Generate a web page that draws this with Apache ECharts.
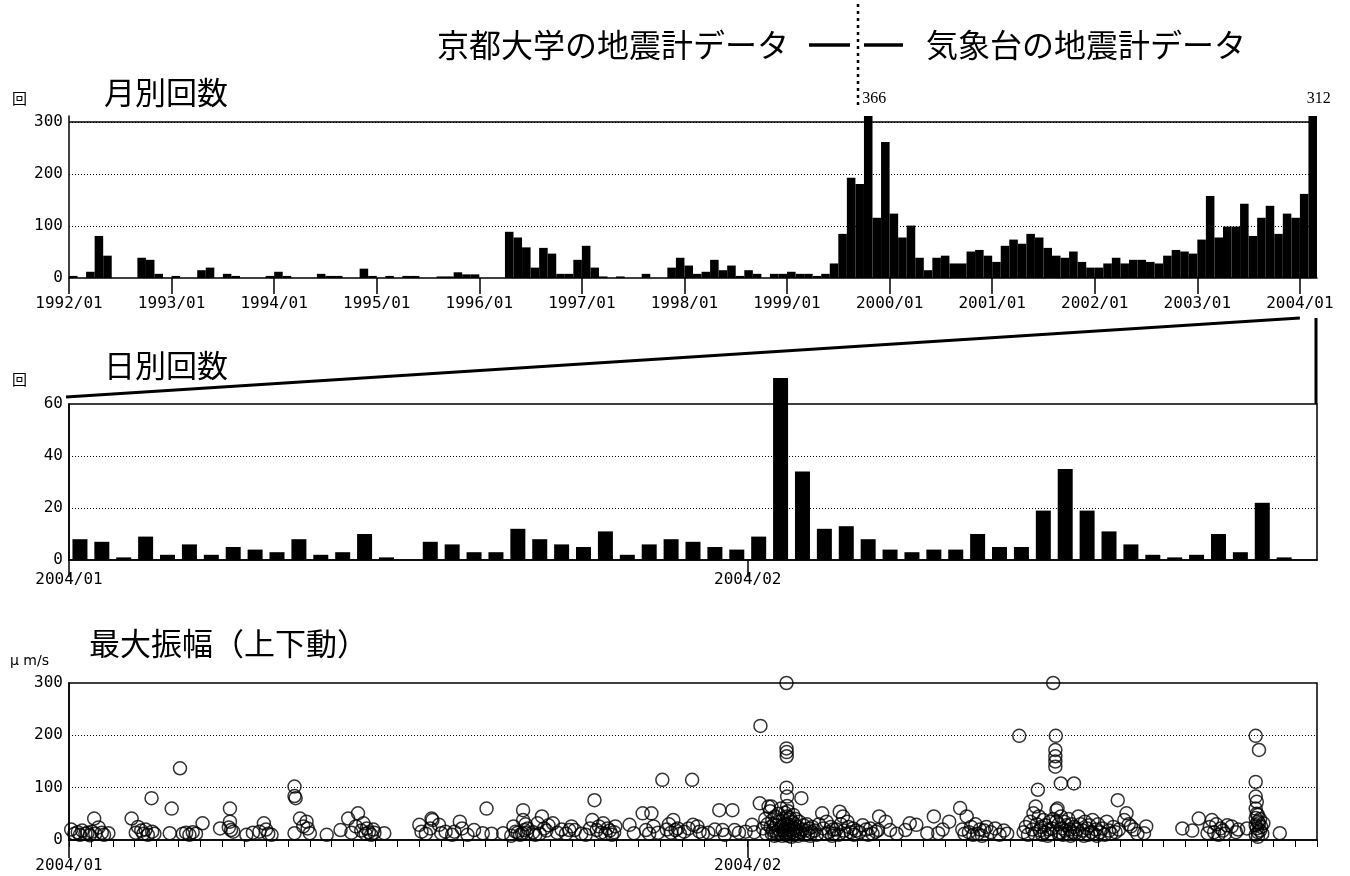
<!DOCTYPE html>
<html>
<head>
<meta charset="utf-8">
<script src="https://cdn.jsdelivr.net/npm/echarts@6.0.0/dist/echarts.min.js"></script>
<style>
html, body { margin: 0; background: #fff; }
#main { width: 1350px; height: 876px; }
</style>
</head>
<body>
<div id="main"></div>
<script>
// 月別回数 1992/01 - 2004/02
const monthlyCounts = [
	4, 0, 12, 81, 43, 0, 0, 0, 39, 35, 8, 0,
	4, 0, 0, 15, 20, 0, 8, 4, 0, 0, 0, 4,
	12, 4, 0, 0, 0, 8, 4, 4, 0, 0, 18, 4,
	0, 4, 0, 4, 4, 0, 0, 3, 3, 11, 7, 7,
	0, 0, 0, 89, 78, 59, 20, 58, 47, 8, 8, 35,
	62, 20, 3, 0, 3, 0, 0, 8, 0, 0, 20, 39,
	24, 8, 12, 35, 15, 24, 4, 15, 8, 0, 8, 8,
	12, 8, 8, 4, 8, 28, 85, 193, 181, 366, 116, 262,
	124, 78, 101, 39, 15, 39, 43, 28, 28, 51, 54, 43,
	31, 62, 74, 66, 85, 78, 58, 43, 39, 51, 31, 20,
	20, 28, 39, 28, 35, 35, 31, 28, 43, 54, 51, 47,
	74, 158, 78, 99, 99, 143, 81, 116, 139, 85, 124, 116,
	162, 312
];
const yearTickLabels = ['1992/01', '1993/01', '1994/01', '1995/01', '1996/01', '1997/01', '1998/01',
	'1999/01', '2000/01', '2001/01', '2002/01', '2003/01', '2004/01'];

// 日別回数 2004/01/01 - 2004/02/26
const dailyCounts = [
	8, 7, 1, 9, 2, 6, 2, 5, 4, 3, 8, 2, 3, 10, 1, 0, 7, 6, 3, 3, 12, 8, 6, 5, 11, 2, 6, 8, 7, 5, 4,
	9, 70, 34, 12, 13, 8, 4, 3, 4, 4, 10, 5, 5, 19, 35, 19, 11, 6, 2, 1, 2, 10, 3, 22, 1, 0
];
const dayTickLabels = ['2004/01', '2004/02'];
const dayTickDays = [0, 31];

// 最大振幅（上下動）: [2004/01/01からの日数, μm/s]
const ampPoints = [
	[0.1, 20], [0.25, 12], [0.4, 15], [0.5, 10], [0.6, 18], [0.75, 12], [0.85, 14], [0.95, 9],
	[1.05, 16], [1.15, 41], [1.2, 12], [1.35, 24], [1.5, 14], [1.6, 10], [1.8, 13],
	[2.86, 41],
	[3.05, 14], [3.15, 25], [3.3, 18], [3.4, 12], [3.5, 20], [3.6, 10], [3.77, 80], [3.8, 16], [3.9, 12],
	[4.6, 13], [4.69, 60],
	[5.07, 137], [5.2, 12], [5.35, 14], [5.5, 10], [5.65, 15], [5.8, 12],
	[6.1, 32], [6.9, 22],
	[7.3, 24], [7.35, 60], [7.35, 35], [7.4, 19], [7.5, 16],
	[8.1, 10], [8.4, 14], [8.7, 16], [8.9, 32],
	[9.0, 20], [9.1, 12], [9.25, 10],
	[10.3, 102], [10.3, 84], [10.35, 80], [10.3, 13], [10.55, 41], [10.7, 26], [10.85, 35], [10.9, 22],
	[11.0, 13], [11.77, 10],
	[12.4, 19], [12.75, 41], [12.9, 14],
	[13.1, 26], [13.2, 51], [13.35, 18], [13.45, 32], [13.55, 12], [13.6, 22], [13.7, 15], [13.8, 10], [13.9, 20], [13.95, 14],
	[14.4, 13],
	[16.0, 29], [16.1, 16], [16.3, 12], [16.5, 22], [16.56, 41], [16.6, 38], [16.9, 29],
	[17.0, 13], [17.2, 16], [17.5, 10], [17.6, 16], [17.85, 35], [17.95, 22],
	[18.2, 10], [18.5, 19], [18.9, 13],
	[19.07, 60], [19.3, 12], [19.83, 13],
	[20.2, 8], [20.3, 26], [20.4, 16], [20.5, 14], [20.6, 10], [20.7, 12], [20.74, 57], [20.74, 38], [20.8, 19], [20.85, 30], [20.9, 13], [20.95, 22],
	[21.2, 15], [21.3, 10], [21.4, 32], [21.5, 12], [21.6, 45], [21.7, 22], [21.8, 18], [21.9, 28],
	[22.1, 32], [22.3, 14], [22.5, 20], [22.7, 12], [22.85, 19], [22.95, 26],
	[23.1, 19], [23.4, 12], [23.6, 10], [23.8, 22], [23.9, 38],
	[24.0, 76], [24.1, 19], [24.2, 26], [24.3, 14], [24.4, 32], [24.5, 12], [24.6, 22], [24.7, 18], [24.8, 10], [24.9, 15], [24.95, 26],
	[25.6, 29], [25.8, 13],
	[26.2, 51], [26.35, 19], [26.5, 12], [26.6, 51], [26.7, 26], [26.9, 14],
	[27.1, 115], [27.3, 20], [27.4, 30], [27.5, 14], [27.6, 38], [27.7, 19], [27.8, 22], [27.9, 12],
	[28.1, 16], [28.3, 22], [28.46, 115], [28.5, 29], [28.7, 26], [28.8, 16], [28.95, 12],
	[29.2, 14], [29.5, 20], [29.7, 57], [29.85, 19], [29.95, 10],
	[30.3, 57], [30.4, 19], [30.6, 14], [30.9, 16],
	[31.2, 29], [31.3, 15], [31.55, 70], [31.58, 218], [31.7, 22], [31.8, 40], [31.85, 12], [31.9, 30], [31.95, 64],
	[32.02, 55], [32.05, 25], [32.08, 64], [32.1, 12], [32.12, 38], [32.15, 18], [32.2, 30], [32.22, 8], [32.25, 45], [32.3, 15],
	[32.32, 28], [32.35, 10], [32.4, 50], [32.42, 20], [32.45, 35], [32.5, 12], [32.52, 60], [32.55, 25], [32.58, 8], [32.6, 40],
	[32.62, 18], [32.65, 30], [32.68, 14], [32.7, 52], [32.72, 22], [32.75, 10], [32.77, 300], [32.77, 175], [32.78, 168], [32.78, 160],
	[32.77, 100], [32.8, 83], [32.8, 65], [32.8, 45], [32.82, 30], [32.82, 15], [32.84, 55], [32.85, 20], [32.86, 8], [32.88, 38],
	[32.9, 25], [32.92, 12], [32.94, 42], [32.96, 18], [32.98, 28], [32.99, 6],
	[33.02, 35], [33.05, 15], [33.08, 48], [33.1, 22], [33.12, 10], [33.15, 30], [33.18, 18], [33.2, 40], [33.25, 12], [33.28, 25],
	[33.3, 8], [33.35, 35], [33.4, 15], [33.45, 80], [33.5, 20], [33.55, 28], [33.6, 10], [33.65, 18], [33.7, 30], [33.75, 12],
	[33.8, 22], [33.85, 8], [33.9, 15], [33.95, 25],
	[34.05, 18], [34.15, 10], [34.25, 30], [34.4, 51], [34.45, 22], [34.55, 12], [34.6, 35], [34.7, 15], [34.8, 25], [34.85, 8], [34.9, 20], [34.95, 12],
	[35.05, 20], [35.15, 10], [35.2, 54], [35.25, 30], [35.35, 45], [35.4, 18], [35.5, 12], [35.55, 35], [35.6, 25], [35.7, 15], [35.8, 22], [35.85, 10], [35.95, 18],
	[36.1, 15], [36.25, 28], [36.4, 20], [36.5, 10], [36.6, 22], [36.7, 12], [36.85, 16], [36.95, 19],
	[37.0, 45], [37.3, 35], [37.5, 19], [37.8, 12],
	[38.2, 19], [38.4, 32], [38.7, 29],
	[39.2, 13], [39.5, 45], [39.7, 13], [39.9, 20],
	[40.2, 35], [40.7, 61], [40.8, 20], [40.9, 12],
	[41.0, 45], [41.1, 15], [41.2, 25], [41.3, 10], [41.4, 30], [41.5, 12], [41.6, 20], [41.7, 8], [41.8, 18], [41.9, 25],
	[42.1, 15], [42.3, 22], [42.5, 10], [42.7, 18], [42.85, 12],
	[43.4, 199], [43.6, 15], [43.7, 25], [43.8, 10], [43.9, 35],
	[44.0, 20], [44.05, 51], [44.1, 12], [44.15, 64], [44.2, 30], [44.25, 96], [44.3, 45], [44.35, 18], [44.4, 25], [44.45, 10],
	[44.5, 38], [44.55, 15], [44.6, 28], [44.7, 8], [44.75, 20], [44.8, 35], [44.85, 12], [44.9, 22], [44.95, 40], [44.95, 300],
	[45.07, 199], [45.05, 172], [45.05, 160], [45.05, 150], [45.05, 140], [45.3, 108], [45.9, 108], [45.1, 57], [45.15, 60], [45.2, 30],
	[45.25, 15], [45.3, 45], [45.35, 22], [45.4, 10], [45.45, 35], [45.5, 18], [45.55, 28], [45.6, 12], [45.65, 40], [45.7, 20],
	[45.75, 8], [45.8, 30], [45.85, 15], [45.9, 25], [45.95, 12], [45.1, 35], [45.2, 12],
	[46.05, 20], [46.1, 45], [46.15, 12], [46.2, 30], [46.3, 18], [46.35, 8], [46.4, 35], [46.5, 22], [46.55, 10], [46.6, 28],
	[46.7, 15], [46.75, 38], [46.8, 12], [46.9, 20], [46.95, 8],
	[47.0, 30], [47.1, 15], [47.2, 22], [47.3, 10], [47.4, 35], [47.5, 18], [47.6, 12], [47.7, 25], [47.8, 15], [47.9, 76], [47.95, 20],
	[48.2, 38], [48.3, 51], [48.4, 30], [48.5, 26], [48.65, 20], [48.8, 12],
	[49.1, 13], [49.2, 26],
	[50.85, 22],
	[51.3, 18], [51.6, 41],
	[52.0, 13], [52.1, 25], [52.2, 38], [52.3, 15], [52.4, 30], [52.5, 10], [52.6, 22], [52.7, 18], [52.8, 12], [52.9, 28],
	[53.1, 26], [53.3, 15], [53.4, 20], [53.8, 22],
	[54.2, 199], [54.35, 172], [54.2, 111], [54.2, 83], [54.25, 73], [54.2, 60], [54.25, 50], [54.2, 42], [54.3, 35], [54.2, 28],
	[54.25, 22], [54.3, 15], [54.2, 10], [54.35, 32], [54.3, 6], [54.4, 18], [54.45, 25], [54.5, 12], [54.55, 32], [54.3, 48], [54.4, 40],
	[55.3, 13]
];

// カテゴリ（月・日）
const monthCats = [];
for (let y = 1992; y <= 2004; y++) {
	for (let m = 1; m <= 12; m++) {
		if (monthCats.length < monthlyCounts.length) monthCats.push(y + '/' + String(m).padStart(2, '0'));
	}
}
const dayCats = dailyCounts.map((v, i) => i < 31 ? '2004/01/' + (i + 1) : '2004/02/' + (i - 30));

// レイアウト
const L = 69, W = 1248;
const G1 = { top: 116, height: 162 };
const G2 = { top: 404, height: 156 };
const G3 = { top: 683, height: 157 };
const AX_FONT = '"DejaVu Sans Mono", monospace';
const JP_FONT = '"Noto Sans CJK JP", sans-serif';
const BLACK = '#000';

const yearTickPos = yearTickLabels.map((s, i) => i * 12);
const dotted = { lineStyle: { color: BLACK, type: [1, 2], width: 1 }, showMinLine: false, showMaxLine: false };
const axisText = { color: BLACK, fontFamily: AX_FONT, fontSize: 16 };

const chart = echarts.init(document.getElementById('main'));

// 月と2004/01の境界位置
const monthX = (i) => L + i * W / monthlyCounts.length;
const iJan04 = monthCats.indexOf('2004/01');

const option = {
	animation: false,
	backgroundColor: '#fff',
	grid: [
		{ left: L, width: W, top: G1.top, height: G1.height, outerBoundsMode: 'none' },
		{ left: L, width: W, top: G2.top, height: G2.height, show: true, borderColor: BLACK, borderWidth: 1.5, outerBoundsMode: 'none' },
		{ left: L, width: W, top: G3.top, height: G3.height, show: true, borderColor: BLACK, borderWidth: 1.5, outerBoundsMode: 'none' }
	],
	xAxis: [
		{
			type: 'category', gridIndex: 0, data: monthCats,
			axisLine: { lineStyle: { color: BLACK, width: 1.5 } },
			axisTick: { interval: 0, length: 6, lineStyle: { color: BLACK } },
			axisLabel: { show: false }
		},
		{
			type: 'value', gridIndex: 0, position: 'bottom', min: 0, max: monthlyCounts.length,
			axisLine: { show: false },
			splitLine: { show: false },
			axisTick: { customValues: yearTickPos, length: 16, lineStyle: { color: BLACK, width: 1.5 } },
			axisLabel: Object.assign({
				customValues: yearTickPos, margin: 18,
				formatter: (v) => yearTickLabels[yearTickPos.indexOf(v)] || ''
			}, axisText)
		},
		{
			type: 'category', gridIndex: 1, data: dayCats,
			axisLine: { lineStyle: { color: BLACK, width: 1.5 } },
			axisTick: { interval: 0, length: 7, lineStyle: { color: BLACK } },
			axisLabel: { show: false }
		},
		{
			type: 'value', gridIndex: 1, position: 'bottom', min: 0, max: dailyCounts.length,
			axisLine: { show: false },
			splitLine: { show: false },
			axisTick: { customValues: dayTickDays, length: 17, lineStyle: { color: BLACK, width: 1.5 } },
			axisLabel: Object.assign({
				customValues: dayTickDays, margin: 12,
				formatter: (v) => dayTickLabels[dayTickDays.indexOf(v)] || ''
			}, axisText)
		},
		{
			type: 'value', gridIndex: 2, min: 0, max: dailyCounts.length, interval: 1,
			axisLine: { lineStyle: { color: BLACK, width: 1.5 } },
			axisTick: { length: 7, lineStyle: { color: BLACK } },
			axisLabel: { show: false },
			splitLine: { show: false }
		},
		{
			type: 'value', gridIndex: 2, position: 'bottom', min: 0, max: dailyCounts.length,
			axisLine: { show: false },
			splitLine: { show: false },
			axisTick: { customValues: dayTickDays, length: 18, lineStyle: { color: BLACK, width: 1.5 } },
			axisLabel: Object.assign({
				customValues: dayTickDays, margin: 18,
				formatter: (v) => dayTickLabels[dayTickDays.indexOf(v)] || ''
			}, axisText)
		}
	],
	yAxis: [
		{
			type: 'value', gridIndex: 0, min: 0, max: 312, interval: 100,
			axisLine: { show: true, lineStyle: { color: BLACK, width: 1.5 } },
			axisTick: { show: false },
			axisLabel: Object.assign({ margin: 6, formatter: (v) => v <= 300 ? v : '' }, axisText),
			splitLine: dotted
		},
		{
			type: 'value', gridIndex: 1, min: 0, max: 60, interval: 20,
			axisLine: { show: true, lineStyle: { color: BLACK, width: 1.5 } },
			axisTick: { show: false },
			axisLabel: Object.assign({ margin: 6 }, axisText),
			splitLine: dotted
		},
		{
			type: 'value', gridIndex: 2, min: 0, max: 300, interval: 100,
			axisLine: { show: true, lineStyle: { color: BLACK, width: 1.5 } },
			axisTick: { show: false },
			axisLabel: Object.assign({ margin: 6 }, axisText),
			splitLine: dotted
		}
	],
	series: [
		{
			name: '月別回数', type: 'bar', xAxisIndex: 0, yAxisIndex: 0,
			data: monthlyCounts,
			barCategoryGap: '0%',
			itemStyle: { color: BLACK },
			label: {
				show: true, position: 'top', distance: 9, offset: [6, 0],
				formatter: (p) => p.value > 300 ? p.value : '',
				color: BLACK, fontFamily: '"Liberation Serif", serif', fontSize: 16
			},
			markLine: {
				silent: true, symbol: 'none', label: { show: false },
				lineStyle: { color: BLACK, type: 'solid', width: 1.5 },
				data: [{ yAxis: 300 }]
			}
		},
		{
			name: '日別回数', type: 'bar', xAxisIndex: 2, yAxisIndex: 1,
			data: dailyCounts,
			barWidth: 15,
			clip: false,
			itemStyle: { color: BLACK }
		},
		{
			name: '最大振幅', type: 'scatter', xAxisIndex: 4, yAxisIndex: 2,
			data: ampPoints,
			symbol: 'circle', symbolSize: 13,
			clip: false,
			itemStyle: { color: 'rgba(0,0,0,0)', borderColor: BLACK, borderWidth: 1.5 }
		}
	],
	graphic: [
		// 凡例（データの切り替え）
		{ type: 'text', x: 789, y: 45, style: { text: '京都大学の地震計データ', font: '32px ' + JP_FONT, fill: BLACK, textAlign: 'right', textVerticalAlign: 'middle' } },
		{ type: 'line', shape: { x1: 809, y1: 45, x2: 850, y2: 45 }, style: { stroke: BLACK, lineWidth: 3.5 } },
		{ type: 'line', shape: { x1: 858, y1: 4, x2: 858, y2: 105 }, style: { stroke: BLACK, lineWidth: 2.5, lineDash: [3, 4] } },
		{ type: 'line', shape: { x1: 864, y1: 45, x2: 903, y2: 45 }, style: { stroke: BLACK, lineWidth: 3.5 } },
		{ type: 'text', x: 926, y: 45, style: { text: '気象台の地震計データ', font: '32px ' + JP_FONT, fill: BLACK, textAlign: 'left', textVerticalAlign: 'middle' } },
		// パネルタイトル
		{ type: 'text', x: 104, y: 92, style: { text: '月別回数', font: '31px ' + JP_FONT, fill: BLACK, textVerticalAlign: 'middle' } },
		{ type: 'text', x: 104, y: 365, style: { text: '日別回数', font: '31px ' + JP_FONT, fill: BLACK, textVerticalAlign: 'middle' } },
		{ type: 'text', x: 89, y: 643, style: { text: '最大振幅（上下動）', font: '31px ' + JP_FONT, fill: BLACK, textVerticalAlign: 'middle' } },
		// 単位
		{ type: 'text', x: 12, y: 98, style: { text: '回', font: '15px ' + JP_FONT, fill: BLACK, textVerticalAlign: 'middle' } },
		{ type: 'text', x: 12, y: 379, style: { text: '回', font: '15px ' + JP_FONT, fill: BLACK, textVerticalAlign: 'middle' } },
		{ type: 'text', x: 10, y: 661, style: { text: 'μ m/s', font: '14px "DejaVu Sans", sans-serif', fill: BLACK, textVerticalAlign: 'middle' } },
		// 拡大範囲の引き出し線
		{ type: 'line', shape: { x1: L - 3, y1: G2.top - 7, x2: monthX(iJan04), y2: 318 }, style: { stroke: BLACK, lineWidth: 3 } },
		{ type: 'line', shape: { x1: L + W - 1, y1: 318, x2: L + W - 1, y2: G2.top }, style: { stroke: BLACK, lineWidth: 3 } }
	]
};

chart.setOption(option);
</script>
</body>
</html>
